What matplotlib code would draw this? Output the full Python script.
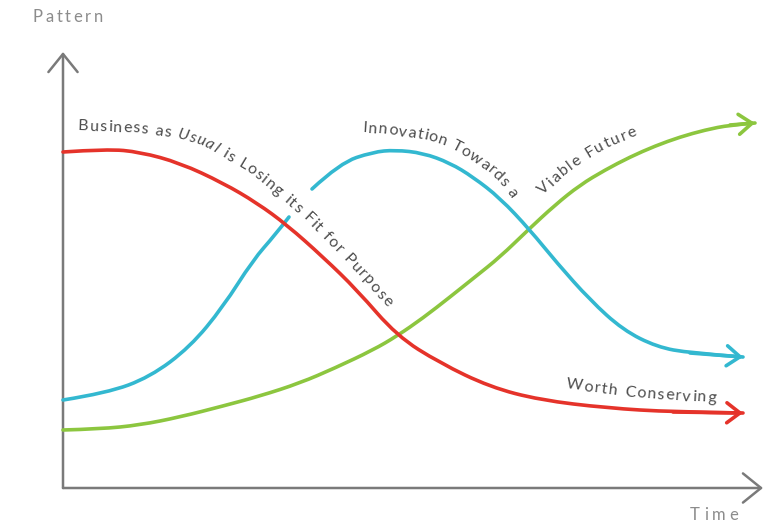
import numpy as np
import matplotlib
matplotlib.use("Agg")
import matplotlib.pyplot as plt
from matplotlib.font_manager import FontProperties
from matplotlib.path import Path
from matplotlib.patches import PathPatch

# curves: time (x) and pattern (y)
red_t = [0, 44, 77, 117, 160, 194, 224, 260, 294, 334, 377, 427, 477, 544, 610, 680]
red_p = [336, 339, 336, 325, 305, 285, 263, 231, 198, 152, 125, 101, 88, 80, 76, 75]

blue_rise_t = [0, 44, 87, 127, 160, 190, 212, 226]
blue_rise_p = [88, 95, 111, 141, 181, 228, 253, 271]
blue_fall_t = [249, 277, 310, 332, 360, 387, 410, 437, 467, 494, 527, 560, 594, 627, 680]
blue_fall_p = [299, 325, 336, 338, 335, 325, 311, 290, 258, 225, 188, 158, 141, 135, 131]

green_t = [0, 37, 77, 117, 160, 197, 237, 272, 310, 334, 360, 387, 412, 437, 465,
           492, 517, 542, 567, 592, 617, 642, 667, 692]
green_p = [58, 59, 63, 71, 82, 92, 105, 120, 138, 152, 170, 191, 211, 231, 258,
           283, 303, 318, 331, 342, 351, 358, 363, 365]

RED = "#e5332a"
BLUE = "#33b8d0"
GREEN = "#8cc63f"
TXT = "#4c4c4c"
AXC = "#7a7a7a"

fig = plt.figure(figsize=(7.65, 5.28), dpi=100)
ax = fig.add_axes([0, 0, 1, 1])
ax.set_xlim(-63, 702)
ax.set_ylim(-40, 488)
ax.axis("off")

# axes with open arrow heads
ax_arrow = dict(arrowstyle="->, head_length=13, head_width=10.5", color=AXC, lw=1.8,
                mutation_scale=1, shrinkA=0, shrinkB=0)
ax.annotate("", xy=(0, 436), xytext=(0, 0), arrowprops=ax_arrow)
ax.annotate("", xy=(700, 0), xytext=(0, 0), arrowprops=ax_arrow)


def curve(t, p, color, arrow=True):
    # smooth quadratic path using the read points as control points
    pts = list(zip(t, p))
    verts = [pts[0]]
    codes = [Path.MOVETO]
    for i in range(1, len(pts) - 1):
        nxt = pts[i + 1] if i == len(pts) - 2 else ((pts[i][0] + pts[i + 1][0]) / 2,
                                                     (pts[i][1] + pts[i + 1][1]) / 2)
        verts += [pts[i], nxt]
        codes += [Path.CURVE3, Path.CURVE3]
    ax.add_patch(PathPatch(Path(verts, codes), facecolor="none", edgecolor=color,
                           lw=2.6, capstyle="round", zorder=3))
    if arrow:
        ax.annotate("", xy=(t[-1], p[-1]), xytext=(t[-2], p[-2]),
                    arrowprops=dict(arrowstyle="->, head_length=9.5, head_width=7.2",
                                    color=color, lw=2.6, mutation_scale=1,
                                    shrinkA=0, shrinkB=0), zorder=3)


curve(green_t, green_p, GREEN)
curve(blue_rise_t, blue_rise_p, BLUE, arrow=False)
curve(blue_fall_t, blue_fall_p, BLUE)
curve(red_t, red_p, RED)

fig.canvas.draw()
renderer = fig.canvas.get_renderer()


def char_w(ch, fp):
    a = renderer.get_text_width_height_descent("x" + ch + "x", fp, ismath=False)[0]
    b = renderer.get_text_width_height_descent("xx", fp, ismath=False)[0]
    return a - b


def text_on_path(pieces, path, size, color, offset=4.5):
    pts = np.array(path, dtype=float)
    seg = np.hypot(np.diff(pts[:, 0]), np.diff(pts[:, 1]))
    cum = np.concatenate([[0], np.cumsum(seg)])
    L = cum[-1]

    def at(s):
        s = min(max(s, 0), L)
        return np.array([np.interp(s, cum, pts[:, 0]), np.interp(s, cum, pts[:, 1])])

    chars = []
    for txt, style in pieces:
        fp = FontProperties(family=["Lato", "DejaVu Sans"], style=style, size=size)
        for ch in txt:
            chars.append((ch, fp, char_w(ch, fp)))
    total = sum(c[2] for c in chars)
    track = (L - total) / max(len(chars) - 1, 1)
    s = 0.0
    for ch, fp, w in chars:
        mid = s + w / 2
        a, b = at(mid - 9), at(mid + 9)
        th = np.arctan2(b[1] - a[1], b[0] - a[0])
        c = at(mid) + offset * np.array([np.sin(th), -np.cos(th)])
        if ch != " ":
            ax.text(c[0], c[1], ch, fontproperties=fp, color=color,
                    rotation=np.degrees(th), rotation_mode="anchor",
                    ha="center", va="baseline", zorder=4)
        s += w + track


lab1 = [(15, 362), (77, 360), (112, 355), (142, 347), (165, 333), (187, 320), (207, 304),
        (227, 287), (247, 269), (267, 249), (287, 228), (307, 206), (327, 184)]
lab2 = [(300, 360), (317, 359), (334, 357), (357, 354), (377, 349), (392, 343), (407, 334),
        (422, 324), (435, 313), (445, 302), (452, 292)]
lab3 = [(477, 296), (497, 315), (517, 330), (537, 342), (557, 351), (573, 357)]
lab4 = [(503, 104), (537, 100), (577, 95), (617, 92), (653, 90)]

text_on_path([("Business as ", "normal"), ("Usual", "italic"),
              (" is Losing its Fit for Purpose", "normal")], lab1, 11.5, TXT)
text_on_path([("Innovation Towards a", "normal")], lab2, 11.5, TXT)
text_on_path([("Viable Future", "normal")], lab3, 11.5, TXT)
text_on_path([("Worth Conserving", "normal")], lab4, 11.5, TXT)

text_on_path([("Pattern", "normal")], [(-30, 470), (40, 470)], 12, "#8c8c8c")
text_on_path([("Time", "normal")], [(627, -27), (675, -27)], 12, "#8c8c8c")

fig.savefig("out.png", dpi=100, facecolor="white")
